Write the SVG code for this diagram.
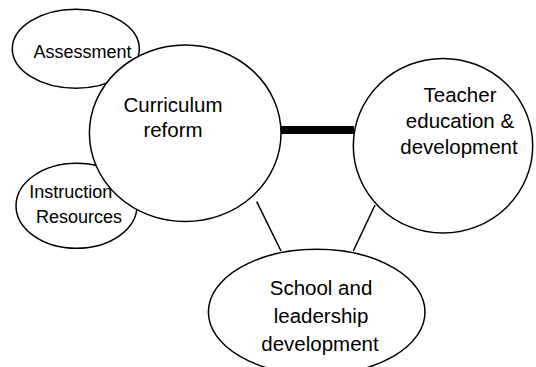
<svg xmlns="http://www.w3.org/2000/svg" width="536" height="367" viewBox="0 0 536 367">
<style>
.n{fill:#fff;stroke:#000;stroke-width:1.5}
.t{font-family:"Liberation Sans",Arial,sans-serif;fill:#000;text-anchor:middle}
.s{font-size:18px}
.b{font-size:20.5px}
.c{stroke:#000;fill:none}
</style>
<rect width="536" height="367" fill="#fff"/>
<g id="connectors">
<line class="c" x1="281" y1="130" x2="354" y2="130" stroke-width="8"/>
<line class="c" x1="256.7" y1="201.7" x2="281" y2="251" stroke-width="1.5"/>
<line class="c" x1="375" y1="205" x2="353.3" y2="251" stroke-width="1.5"/>
</g>
<g id="assessment">
<ellipse class="n" cx="75.8" cy="48.8" rx="63.5" ry="39.5"/>
<text class="t s" x="82.5" y="58">Assessment</text>
</g>
<g id="instruction">
<ellipse class="n" cx="76.5" cy="205.8" rx="60.5" ry="42.5"/>
<text class="t s" x="29.3" y="198" style="text-anchor:start">Instruction</text>
<text class="t s" x="79" y="223">Resources</text>
</g>
<g id="curriculum">
<ellipse class="n" cx="185.2" cy="133.3" rx="95.8" ry="88.3"/>
<text class="t b" x="173" y="112">Curriculum</text>
<text class="t b" x="173" y="137">reform</text>
</g>
<g id="teacher">
<ellipse class="n" cx="443" cy="145.7" rx="89.7" ry="87.3"/>
<text class="t b" x="460" y="102">Teacher</text>
<text class="t b" x="460" y="128">education &amp;</text>
<text class="t b" x="459" y="154">development</text>
</g>
<g id="school">
<ellipse class="n" cx="316.7" cy="312" rx="108.3" ry="62.7"/>
<text class="t b" x="321" y="295">School and</text>
<text class="t b" x="321" y="323">leadership</text>
<text class="t b" x="320" y="351">development</text>
</g>
</svg>
